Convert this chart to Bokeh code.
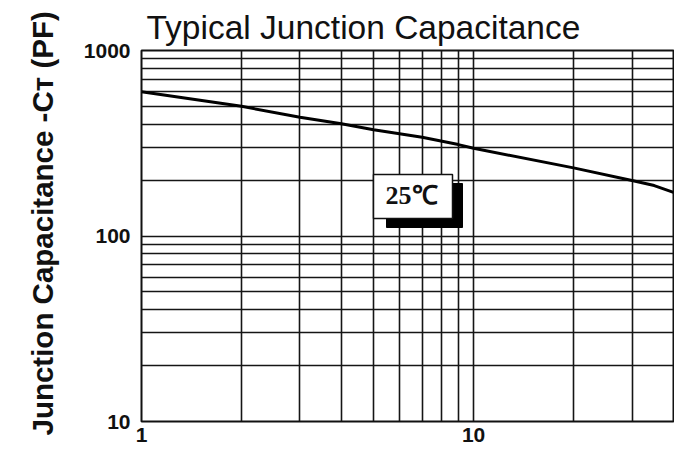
import math
from bokeh.plotting import figure
from bokeh.models import FixedTicker, PrintfTickFormatter, Label, BoxAnnotation, Range1d, Title
from bokeh.embed import file_html
from bokeh.resources import INLINE

# ---- data ----
reverse_voltage = [1, 2, 3, 4, 5, 7, 9, 10, 20, 30, 35, 40]
capacitance_pf = [600, 500, 437, 403, 374, 341, 311, 297, 233, 199, 187, 172]
x_major_ticks = [1, 10]
x_minor_ticks = [2, 3, 4, 5, 6, 7, 8, 9, 20, 30]
y_major_ticks = [10, 100, 1000]
y_minor_ticks = [20, 30, 40, 50, 60, 70, 80, 90, 200, 300, 400, 500, 600, 700, 800, 900]
title_text = "Typical Junction Capacitance"
y_label_text = "Junction Capacitance -C\u1d1b (PF)"
temp_label = "25\u2103"

FONT = "Liberation Sans"

# ---- layout ----
W, H = 674, 449
B_LEFT, B_RIGHT, B_TOP, B_BOTTOM = 141, 1, 50, 28
X0, X1 = 1, 40
Y0, Y1 = 10, 1000
frame_w = W - B_LEFT - B_RIGHT
frame_h = H - B_TOP - B_BOTTOM


def px_to_x(px):
    return 10 ** (math.log10(X0) + (px - B_LEFT) / frame_w * (math.log10(X1) - math.log10(X0)))


def py_to_y(py):
    return 10 ** (math.log10(Y0) + (H - B_BOTTOM - py) / frame_h * (math.log10(Y1) - math.log10(Y0)))


p = figure(
    width=W, height=H,
    x_axis_type="log", y_axis_type="log",
    x_range=Range1d(X0, X1), y_range=Range1d(Y0, Y1),
    output_backend="svg", toolbar_location=None,
    min_border_left=B_LEFT, min_border_right=B_RIGHT,
    min_border_top=B_TOP, min_border_bottom=B_BOTTOM,
    title=title_text,
)

p.title.text_font = FONT
p.title.text_font_size = "33.5px"
p.title.text_font_style = "normal"
p.title.text_color = "#111111"
p.title.align = "left"
p.title.offset = 5
p.title.standoff = 10

p.outline_line_color = "#111111"
p.outline_line_width = 2
p.background_fill_color = "white"
p.border_fill_color = "white"

p.xaxis.ticker = FixedTicker(ticks=x_major_ticks, minor_ticks=x_minor_ticks)
p.yaxis.ticker = FixedTicker(ticks=y_major_ticks, minor_ticks=y_minor_ticks)

for ax in (p.xaxis, p.yaxis):
    ax.formatter = PrintfTickFormatter(format="%d")
    ax.axis_line_color = None
    ax.major_tick_line_color = None
    ax.minor_tick_line_color = None
    ax.major_tick_out = 0
    ax.minor_tick_out = 0
    ax.major_label_text_font = FONT
    ax.major_label_text_font_style = "bold"
    ax.major_label_text_font_size = "21px"
    ax.major_label_text_color = "#111111"

p.xaxis.major_label_standoff = 6
p.yaxis.major_label_standoff = 11

for g in (p.xgrid, p.ygrid):
    g.grid_line_color = "#151515"
    g.grid_line_width = 1.6
    g.grid_line_alpha = 1.0
    g.minor_grid_line_color = "#151515"
    g.minor_grid_line_width = 1.6
    g.minor_grid_line_alpha = 1.0

# y-axis title (rotated, in the left panel)
ytitle = Title(text=y_label_text, align="left", offset=-14, standoff=44,
               text_font=FONT, text_font_style="bold", text_font_size="29.5px",
               text_color="#111111")
p.add_layout(ytitle, "left")

# capacitance curve
p.line(reverse_voltage, capacitance_pf, line_color="black", line_width=3)

# 25 C badge: shadow box, white box, text
shadow = BoxAnnotation(left=px_to_x(386), right=px_to_x(462), top=py_to_y(183), bottom=py_to_y(227),
                       fill_color="black", fill_alpha=1.0, line_color="black", line_alpha=1.0,
                       line_width=1)
box = BoxAnnotation(left=px_to_x(373), right=px_to_x(452), top=py_to_y(174), bottom=py_to_y(218),
                    fill_color="white", fill_alpha=1.0, line_color="#111111", line_alpha=1.0,
                    line_width=1.5)
p.add_layout(shadow)
p.add_layout(box)
p.add_layout(Label(x=px_to_x(411), y=py_to_y(195), text=temp_label, text_align="center",
                   text_baseline="middle", text_font="Liberation Serif", text_font_style="bold",
                   text_font_size="26px", text_color="#111111"))

open("out.html", "w").write(file_html(p, INLINE))
